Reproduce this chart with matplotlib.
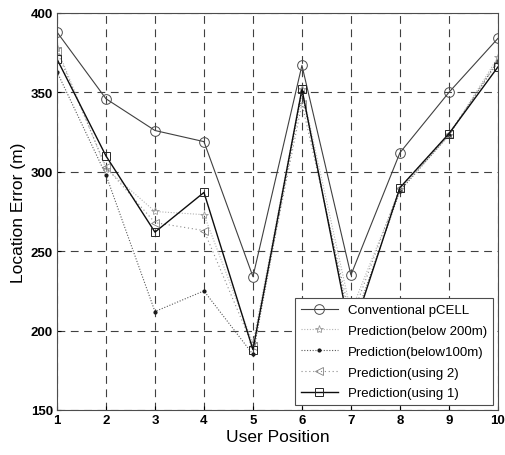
import matplotlib
matplotlib.use("Agg")
import matplotlib.pyplot as plt

plt.rcParams['font.family'] = ['Liberation Sans', 'DejaVu Sans']

positions = [1, 2, 3, 4, 5, 6, 7, 8, 9, 10]
conventional = [388, 346, 326, 319, 234, 367, 235, 312, 350, 384]
below200 = [378, 302, 275, 273, 192, 352, 212, 289, 323, 372]
below100 = [363, 298, 212, 225, 185, 350, 200, 288, 323, 370]
using2 = [376, 303, 268, 263, 190, 343, 207, 290, 324, 369]
using1 = [371, 310, 262, 287, 188, 352, 196, 290, 324, 366]

labels = ["Conventional pCELL", "Prediction(below 200m)", "Prediction(below100m)",
          "Prediction(using 2)", "Prediction(using 1)"]
xticks = [1, 2, 3, 4, 5, 6, 7, 8, 9, 10]
yticks = [150, 200, 250, 300, 350, 400]

fig = plt.figure(figsize=(5.06, 4.56), dpi=100)
ax = fig.add_axes([0.1126, 0.0987, 0.8714, 0.8706])

ax.plot(positions, conventional, color='0.25', lw=0.8, marker='o', ms=7,
        mfc='none', mec='0.3', mew=0.7, label=labels[0])
ax.plot(positions, below200, color='0.7', lw=0.8, ls=(0, (1, 1.5)), marker='*', ms=6,
        mfc='none', mec='0.6', mew=0.6, label=labels[1])
ax.plot(positions, below100, color='0.35', lw=0.8, ls=(0, (1, 1.5)), marker='.', ms=4,
        mfc='0.1', mec='0.1', label=labels[2])
ax.plot(positions, using2, color='0.55', lw=0.8, ls=(0, (1, 2.5)), marker='<', ms=6,
        mfc='none', mec='0.5', mew=0.6, label=labels[3])
ax.plot(positions, using1, color='0.05', lw=1.0, marker='s', ms=6,
        mfc='none', mec='0.15', mew=0.7, label=labels[4])

ax.set_xlim(1, 10)
ax.set_ylim(150, 400)
ax.set_xticks(xticks)
ax.set_yticks(yticks)
ax.tick_params(direction='in', length=3, labelsize=9.5, pad=3)
for lab in ax.get_xticklabels() + ax.get_yticklabels():
    lab.set_fontweight('bold')
ax.grid(True, color='0.25', ls=(0, (7, 5)), lw=0.8)
for sp in ax.spines.values():
    sp.set_color('0.3')
    sp.set_linewidth(0.8)

ax.set_xlabel("User Position", fontsize=12.5, labelpad=2)
ax.set_ylabel("Location Error (m)", fontsize=12.5, labelpad=3)

leg = ax.legend(loc='lower right', fontsize=9.5, frameon=True, fancybox=False,
                edgecolor='0.3', framealpha=1, borderaxespad=0.35, handlelength=2.8,
                labelspacing=0.65, borderpad=0.45)
leg.get_frame().set_linewidth(0.8)

fig.savefig("out.png", dpi=100)
